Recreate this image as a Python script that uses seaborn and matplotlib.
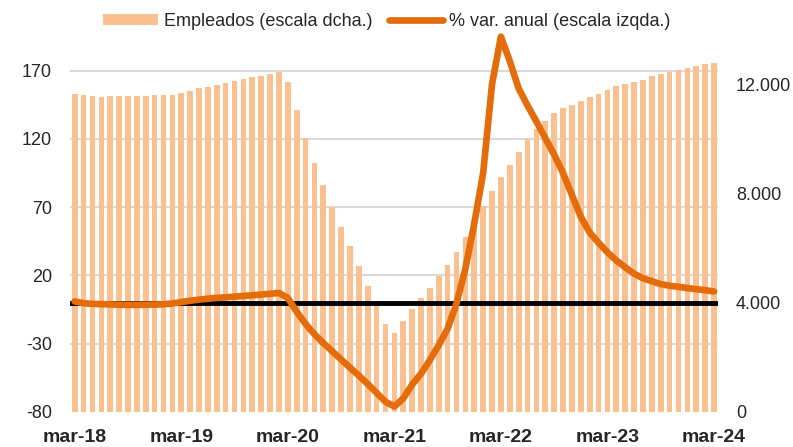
import numpy as np
import matplotlib
matplotlib.use("Agg")
import matplotlib.pyplot as plt
import seaborn as sns
from matplotlib.patches import Patch
from matplotlib.lines import Line2D

sns.set_theme(style="white")
plt.rcParams['font.family'] = ['Liberation Sans', 'DejaVu Sans']
plt.rcParams['axes.unicode_minus'] = False

# ---- data (monthly, mar-18 .. mar-24) ----
empleados = [
    11649, 11612, 11575, 11538, 11560, 11575, 11575, 11586, 11586, 11597, 11597, 11612,
    11685, 11769, 11853, 11915, 11976, 12036, 12109, 12182, 12255, 12317, 12390, 12438,
    12098, 11063, 10025, 9137, 8322, 7504, 6787, 6067, 5336, 4605, 3900, 3205,
    2887, 3326, 3765, 4178, 4558, 4971, 5373, 5848, 6407, 6981, 7529, 8088,
    8600, 9053, 9528, 9985, 10350, 10673, 10947, 11137, 11257, 11400, 11545, 11665,
    11812, 11933, 12025, 12098, 12171, 12306, 12390, 12463, 12524, 12585, 12658, 12731,
    12792,
]
var_anual = [
    1.0, -0.3, -0.8, -1.0, -1.2, -1.4, -1.5, -1.5, -1.4, -1.3, -1.1, -0.5,
    0.5, 1.5, 2.3, 3.0, 3.6, 4.0, 4.5, 5.0, 5.5, 6.0, 6.6, 7.2,
    3.5, -6.5, -15.5, -23, -29.5, -35.5, -41.5, -47.5, -53.3, -59.5, -66, -72.5,
    -76, -70, -60, -52, -42, -31, -19, -0.5, 25, 58, 95, 160,
    195, 177, 157, 144.5, 132.8, 120.5, 108.5, 95, 79, 63, 51.5, 44,
    37, 31, 26, 21.3, 18, 15.8, 13.7, 12.5, 11.7, 10.8, 10, 9.2,
    8.3,
]
x_labels = ["mar-18", "mar-19", "mar-20", "mar-21", "mar-22", "mar-23", "mar-24"]
left_ticks = [-80, -30, 20, 70, 120, 170]
right_ticks = [0, 4000, 8000, 12000]
right_tick_labels = ["0", "4.000", "8.000", "12.000"]

idx = np.arange(len(empleados))

bar_color = "#FBC08F"
line_color = "#E46C0A"

left_min, left_max = -80, 203.5
ratio = 50.0  # right units per left unit


def to_right(v):
    return (np.asarray(v, dtype=float) - left_min) * ratio


fig = plt.figure(figsize=(7.93, 4.47), dpi=100)
ax_bar = fig.add_axes([70 / 793, 35 / 447, 648 / 793, 387 / 447])
ax_line = ax_bar.twinx()

# bars (right scale)
sns.barplot(x=idx, y=empleados, ax=ax_bar, color=bar_color, saturation=1,
            width=0.64, zorder=3, linewidth=0)
ax_bar.set_ylim(0, to_right(left_max))
ax_bar.set_xlim(-0.53, 72.45)
ax_bar.yaxis.tick_right()
ax_bar.set_yticks(right_ticks)
ax_bar.set_yticklabels(right_tick_labels)
ax_bar.set_yticks(to_right(left_ticks), minor=True)
ax_bar.grid(which="minor", axis="y", color="#D9D9D9", lw=1.5, zorder=0)
ax_bar.grid(which="major", axis="both", visible=False)
ax_bar.set_axisbelow(True)
ax_bar.set_xticks(idx[::12])
ax_bar.set_xticklabels(x_labels, fontweight="bold")
ax_bar.tick_params(axis="x", length=0, pad=12, labelsize=14)
ax_bar.tick_params(axis="y", which="both", length=0, pad=13, labelsize=13)
ax_bar.set_xlabel("")
ax_bar.set_ylabel("")

# line (left scale)
ax_line.axhline(0, color="black", lw=3.5, zorder=2)
sns.lineplot(x=idx, y=var_anual, ax=ax_line, color=line_color, lw=4.8,
             solid_capstyle="round", solid_joinstyle="round", zorder=3)
ax_line.set_ylim(left_min, left_max)
ax_line.yaxis.tick_left()
ax_line.yaxis.set_label_position("left")
ax_line.set_yticks(left_ticks)
ax_line.tick_params(axis="y", length=0, pad=13, labelsize=13)
ax_line.grid(False)
ax_line.set_ylabel("")

for a in (ax_bar, ax_line):
    for s in a.spines.values():
        s.set_visible(False)

handles = [
    Patch(facecolor=bar_color, edgecolor="none"),
    Line2D([0], [0], color=line_color, lw=4.8, solid_capstyle="round"),
]
fig.legend(handles, ["Empleados (escala dcha.)", "% var. anual (escala izqda.)"],
           loc="center", bbox_to_anchor=(387 / 793, 1 - 21 / 447), ncol=2,
           frameon=False, fontsize=13, handlelength=3.0, handleheight=0.55,
           handletextpad=0.35, columnspacing=0.9)

fig.savefig("out.png", dpi=100)
